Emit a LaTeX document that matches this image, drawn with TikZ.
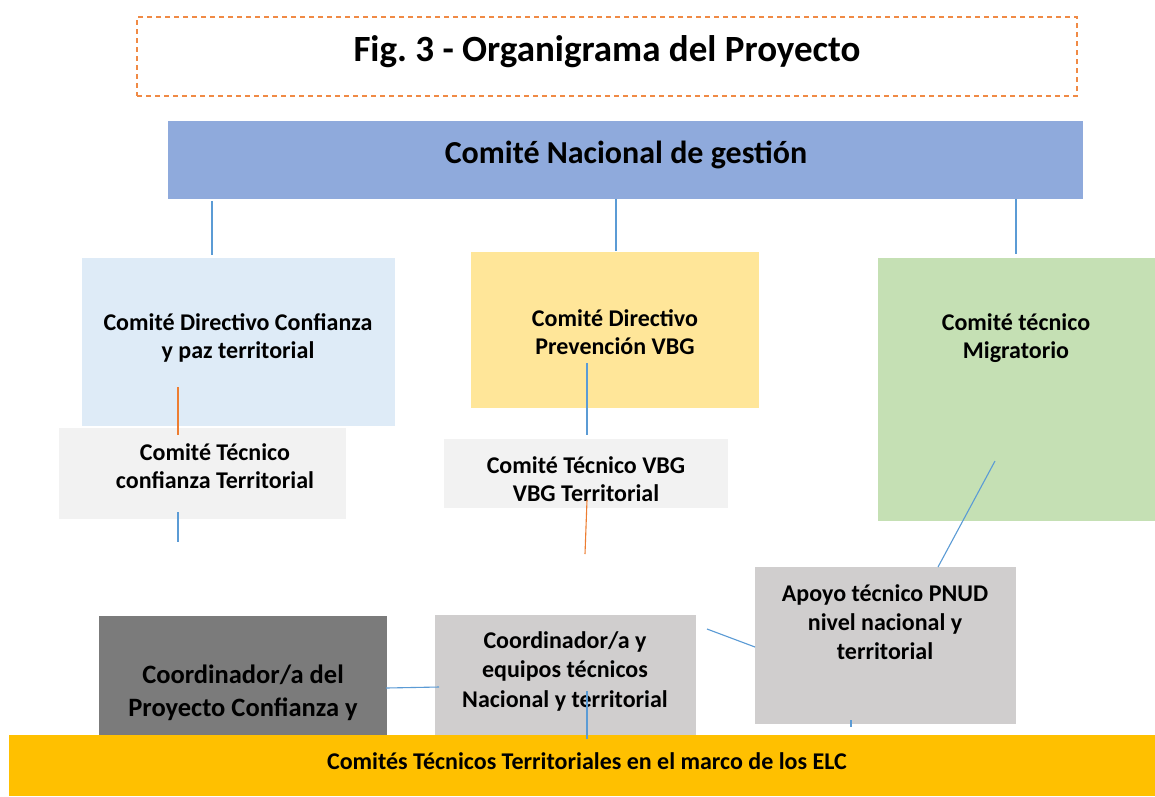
\documentclass[tikz,border=0pt]{standalone}
\usepackage{fontspec}
\setmainfont{Carlito}
\frenchspacing
\definecolor{dashor}{HTML}{F08A45}
\definecolor{nacblue}{HTML}{8FAADC}
\definecolor{ltblue}{HTML}{DEEBF7}
\definecolor{ltyellow}{HTML}{FFE699}
\definecolor{ltgreen}{HTML}{C5E0B4}
\definecolor{ltgrey}{HTML}{F2F2F2}
\definecolor{midgrey}{HTML}{D0CECE}
\definecolor{dkgrey}{HTML}{7B7B7B}
\definecolor{bar}{HTML}{FFC000}
\definecolor{lnblue}{HTML}{5B9BD5}
\definecolor{lnorange}{HTML}{ED7D31}
\tikzset{
  boxnode/.style={rectangle, inner sep=0pt, outer sep=0pt, draw=none},
  txt/.style={align=center, inner sep=0pt, font=\bfseries\fontsize{24}{28.5}\selectfont},
  bl/.style={draw=lnblue, line width=1.1pt},
  orl/.style={draw=lnorange, line width=1.1pt},
}
\begin{document}
\begin{tikzpicture}[x=1pt,y=-1pt]
\useasboundingbox (0,0) rectangle (1155,796);
\fill[white] (0,0) rectangle (1155,796);
% title
\node[boxnode, draw=dashor, line width=1.5pt, dash pattern=on 5pt off 4pt, minimum width=940pt, minimum height=79pt] (title) at (607,56.5) {};
\node[txt, font=\bfseries\fontsize{37}{42}\selectfont] (titletxt) at (607,52) {Fig. 3 - Organigrama del Proyecto};
% nacional
\node[boxnode, fill=nacblue, minimum width=915pt, minimum height=78pt] (nac) at (625.5,160) {};
\node[txt, font=\bfseries\fontsize{32}{36}\selectfont] (nactxt) at (626,155) {Comité Nacional de gestión};
% row 2
\node[boxnode, fill=ltblue, minimum width=313pt, minimum height=168pt] (cdc) at (238.5,342) {};
\node[txt] (cdctxt) at (238,338) {Comité Directivo Confianza\\y paz territorial};
\node[boxnode, fill=ltyellow, minimum width=288pt, minimum height=156pt] (cdv) at (615,330) {};
\node[txt] (cdvtxt) at (615,332) {Comité Directivo\\Prevención VBG};
\node[boxnode, fill=ltgreen, minimum width=277pt, minimum height=263pt] (ctm) at (1016.5,389.5) {};
\node[txt] (ctmtxt) at (1016,338) {Comité técnico\\Migratorio};
% row 3
\node[boxnode, fill=ltgrey, minimum width=287pt, minimum height=91pt] (ctc) at (202.5,473.5) {};
\node[txt] (ctctxt) at (215,466) {Comité Técnico\\confianza Territorial};
\node[boxnode, fill=ltgrey, minimum width=284pt, minimum height=69pt] (ctv) at (586,473.5) {};
\node[txt] (ctvtxt) at (586,479) {Comité Técnico VBG\\VBG Territorial};
% row 4
\node[boxnode, fill=midgrey, minimum width=261pt, minimum height=157pt] (apo) at (885.5,645.5) {};
\node[txt, font=\bfseries\fontsize{24}{29}\selectfont] (apotxt) at (885,622) {Apoyo técnico PNUD\\nivel nacional y\\territorial};
\node[boxnode, fill=midgrey, minimum width=261pt, minimum height=125pt] (coo) at (565.5,677.5) {};
\node[txt, font=\bfseries\fontsize{24}{29.5}\selectfont] (cootxt) at (565,671) {Coordinador/a y\\equipos técnicos\\Nacional y territorial};
\node[boxnode, fill=dkgrey, minimum width=288pt, minimum height=124pt] (cpc) at (243,678) {};
\node[txt, font=\bfseries\fontsize{26.5}{33}\selectfont] (cpctxt) at (243,693) {Coordinador/a del\\Proyecto Confianza y};
% bottom bar
\node[boxnode, fill=bar, minimum width=1146pt, minimum height=61pt] (elc) at (582,765.5) {};
\node[txt, font=\bfseries\fontsize{24}{28}\selectfont] (elctxt) at (587,761) {Comités Técnicos Territoriales en el marco de los ELC};
% connectors
\coordinate (n1) at (212,201); \coordinate (n1e) at (212,255);
\coordinate (n2) at (616,199); \coordinate (n2e) at (616,251);
\coordinate (n3) at (1016,199); \coordinate (n3e) at (1016,254);
\draw[bl] (n1) -- (n1e);
\draw[bl] (n2) -- (n2e);
\draw[bl] (n3) -- (n3e);
\coordinate (a1) at (178,387); \coordinate (a2) at (178,435);
\draw[orl] (a1) -- (a2);
\coordinate (b1) at (178,512); \coordinate (b2) at (178,542);
\draw[bl] (b1) -- (b2);
\coordinate (c1) at (587,363); \coordinate (c2) at (587,435);
\draw[bl] (c1) -- (c2);
\coordinate (d1) at (587,500); \coordinate (d2) at (585,554);
\draw[orl] (d1) -- (d2);
\coordinate (e1) at (995,461); \coordinate (e2) at (938,567);
\draw[bl] (e1) -- (e2);
\coordinate (f1) at (707,629); \coordinate (f2) at (755,647);
\draw[bl] (f1) -- (f2);
\coordinate (g1) at (386,688); \coordinate (g2) at (439,687);
\draw[bl] (g1) -- (g2);
\coordinate (h1) at (587,691); \coordinate (h2) at (587,739);
\draw[bl] (h1) -- (h2);
\coordinate (i1) at (851,720); \coordinate (i2) at (851,727);
\draw[bl] (i1) -- (i2);
\end{tikzpicture}
\end{document}
